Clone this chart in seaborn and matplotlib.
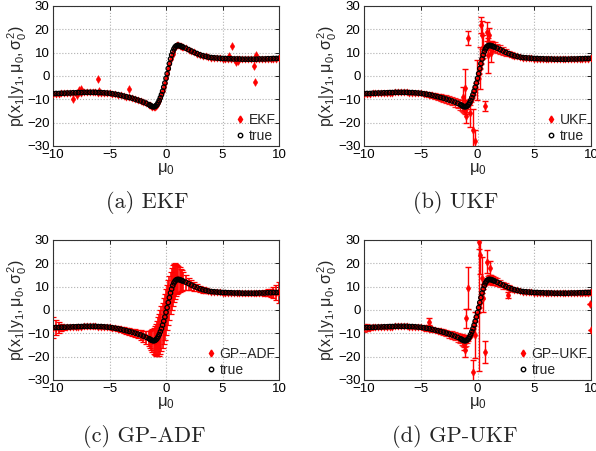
import matplotlib
matplotlib.use('Agg')
import matplotlib.pyplot as plt
import seaborn as sns
from matplotlib.lines import Line2D

# grid of mu_0 values (coarse in the flat parts, finer around 0)
mu0 = [-10, -9.75, -9.5, -9.25, -9, -8.75, -8.5, -8.25, -8, -7.75, -7.5, -7.25,
       -7, -6.75, -6.5, -6.25, -6, -5.75, -5.5, -5.25, -5, -4.75, -4.5, -4.25,
       -4, -3.75, -3.5, -3.25, -3, -2.75, -2.5, -2.25, -2, -1.75, -1.5,
       -1.4, -1.3, -1.2, -1.1, -1.0, -0.9, -0.8, -0.7, -0.6, -0.5, -0.4, -0.3,
       -0.2, -0.1, 0.0, 0.1, 0.2, 0.3, 0.4, 0.5, 0.6, 0.7, 0.8, 0.9, 1.0, 1.1,
       1.2, 1.3, 1.4,
       1.5, 1.75, 2, 2.25, 2.5, 2.75, 3, 3.25, 3.5, 3.75, 4, 4.25, 4.5, 4.75,
       5, 5.25, 5.5, 5.75, 6, 6.25, 6.5, 6.75, 7, 7.25, 7.5, 7.75, 8, 8.25,
       8.5, 8.75, 9, 9.25, 9.5, 9.75, 10]

true_y = [-7.6, -7.5, -7.5, -7.4, -7.4, -7.3, -7.3, -7.2, -7.2, -7.1, -7.1, -7.0,
          -7.0, -7.0, -7.0, -7.0, -7.1, -7.1, -7.2, -7.3, -7.4, -7.6, -7.8, -8.0,
          -8.3, -8.6, -8.9, -9.2, -9.5, -9.9, -10.3, -10.7, -11.2, -11.7, -12.3,
          -12.6, -12.9, -13.1, -13.2, -13.1, -12.8, -12.3, -11.5, -10.5, -9.3,
          -8.0, -6.5, -4.8, -3.0, -1.0, 1.0, 3.2, 5.3, 7.3, 9.0, 10.5, 11.6,
          12.4, 12.9, 13.1, 13.1, 13.0, 12.8, 12.6,
          12.4, 11.9, 11.3, 10.7, 10.1, 9.6, 9.1, 8.7, 8.4, 8.1, 7.9, 7.8, 7.7,
          7.6, 7.5, 7.5, 7.4, 7.4, 7.3, 7.3, 7.3, 7.2, 7.2, 7.2, 7.2, 7.2, 7.2,
          7.3, 7.3, 7.3, 7.4, 7.4, 7.5, 7.5, 7.6]

# EKF: no error bars, a few stray estimates
ekf_out_x = [-8.2, -7.9, -7.7, -7.5, -6.0, -5.9, -3.3, -0.4, 0.6, 5.8, 5.6, 6.2, 6.4, 7.8, 7.9, 8.0]
ekf_out_y = [-9.8, -8.3, -5.8, -5.5, -1.3, -6.4, -5.6, -7.8, 9.3, 12.8, 8.5, 5.8, 6.3, 4.3, -2.6, 9.0]

# UKF
ukf_err = [0.3] * 20 + [0.4, 0.6, 0.8, 1.0, 1.2, 1.3, 1.4, 1.5, 1.5, 1.6, 1.7, 1.8, 1.9, 2.0, 2.2] + \
          [2.4, 2.6, 2.8, 3.0, 3.0, 2.5, 2.0, 1.0, 0.5] + [0.2] * 13 + \
          [0.6, 1.0, 1.5, 2.0, 2.0, 2.0, 2.0] + \
          [2.0, 1.9, 1.8, 1.6, 1.4, 1.2, 1.0, 0.8, 0.6, 0.5, 0.4] + [0.3] * 24
ukf_out_x = [-0.8, 0.28, 0.4, -0.07, 0.66, -0.37, -0.2, -1.1, -0.66, -1.26, -1.0, 0.95, 0.22, 0.51, 1.04, 1.2, 0.8]
ukf_out_y = [16.2, 21.9, 17.5, -1.7, -12.9, -23.0, -28.0, -5.3, -15.9, -8.9, -17.0, 9.0, 3.3, 12.6, 17.6, 10.0, 19.0]
ukf_out_err = [2.9, 3.5, 6.0, 8.5, 2.0, 9.0, 5.0, 8.5, 6.0, 4.0, 3.0, 7.5, 9.0, 5.0, 3.0, 4.0, 4.0]

# GP-ADF
adf_err = [4.5, 3.2, 2.2, 1.5, 1.0, 0.8] + [0.6] * 14 + \
          [0.7, 0.8, 0.9, 1.0, 1.1, 1.2, 1.3, 1.4, 1.5, 1.7, 1.9, 2.1, 2.4, 2.8, 3.3] + \
          [3.8, 4.3, 4.9, 5.5, 6.1, 6.8, 7.6, 8.4, 9.0, 9.4, 9.6, 9.7, 9.8, 9.8, 9.8,
           9.7, 9.6, 9.4, 9.2, 9.0, 8.6, 8.2, 7.6, 7.0, 6.4, 5.8, 5.3, 4.8, 4.4] + \
          [4.0, 3.2, 2.6, 2.2, 1.9, 1.6, 1.4, 1.2, 1.0, 0.9, 0.8, 0.7] + [0.6] * 15 + \
          [0.7, 0.9, 1.1, 1.4, 1.8, 2.4, 3.2, 4.5]

# GP-UKF
gpukf_err = [1.8, 1.5, 1.0, 0.6, 0.4] + [0.3] * 15 + \
            [0.4, 0.8, 1.2, 1.2, 1.0, 1.0, 1.1, 1.2, 1.3, 1.4, 1.5, 1.6, 1.7, 1.8, 2.0] + \
            [2.2, 2.4, 2.6, 2.6, 2.2, 1.5, 0.8] + [0.2] * 14 + [0.8, 1.2, 1.6, 2.0, 2.0, 2.0, 1.9, 1.9] + \
            [1.8, 1.7, 1.6, 1.5, 1.3, 1.1, 0.9, 0.7, 0.5, 0.4] + [0.3] * 20 + [0.5, 0.7, 1.0, 1.2, 1.0]
gpukf_out_x = [-0.81, 0.66, -1.0, -0.37, -0.22, 0.16, 0.22, 0.37, 0.1, 0.8, 1.1, 2.7, -1.19, -1.1, -4.3, 0.5, 9.9, 10.0]
gpukf_out_y = [9.6, -18.1, -3.6, -26.4, -10.7, 29.0, 23.6, 13.6, 2.0, 20.7, 17.9, 6.4, -14.3, -17.0, -5.0, 5.0, 2.4, -8.7]
gpukf_out_err = [9.0, 4.8, 4.0, 5.0, 10.0, 3.0, 8.0, 9.0, 28.0, 5.0, 3.0, 1.4, 3.0, 3.0, 1.5, 6.0, 0.0, 0.0]

panels = ['EKF', 'UKF', 'GP\u2212ADF', 'GP\u2212UKF']
captions = ['(a) EKF', '(b) UKF', '(c) GP-ADF', '(d) GP-UKF']

sns.set_style('white')
plt.rcParams['font.family'] = ['Liberation Sans', 'DejaVu Sans']
plt.rcParams['mathtext.fontset'] = 'custom'
plt.rcParams['mathtext.rm'] = 'Liberation Sans'
plt.rcParams['mathtext.it'] = 'Liberation Sans'
plt.rcParams['mathtext.bf'] = 'Liberation Sans:bold'

W, H = 596, 451
fig = plt.figure(figsize=(W / 100, H / 100), dpi=100)


def box(l, r, t, b):
    return [l / W, 1 - b / H, (r - l) / W, (b - t) / H]


axes = [fig.add_axes(box(53, 279, 6, 146)), fig.add_axes(box(364, 591, 6, 146)),
        fig.add_axes(box(53, 279, 240, 380)), fig.add_axes(box(364, 591, 240, 380))]

red = '#ff0000'
band_errs = [None, ukf_err, adf_err, gpukf_err]
band_alpha = [1, 0.85, 1, 0.85]
band_lw = [0.9, 0.9, 1.2, 0.9]
outliers = [(ekf_out_x, ekf_out_y, None),
            (ukf_out_x, ukf_out_y, ukf_out_err),
            ([], [], None),
            (gpukf_out_x, gpukf_out_y, gpukf_out_err)]

for i, ax in enumerate(axes):
    err = band_errs[i]
    ox, oy, oerr = outliers[i]
    if err is not None:
        ax.errorbar(mu0, true_y, yerr=err, fmt='none', ecolor=red, elinewidth=band_lw[i],
                    capsize=2.2, capthick=0.9, alpha=band_alpha[i])
    if oerr is not None:
        ax.errorbar(ox, oy, yerr=oerr, fmt='none', ecolor=red, elinewidth=1.0,
                    capsize=2.5, capthick=1.0)
    sns.scatterplot(x=mu0, y=true_y, ax=ax, marker='d', s=14, color=red,
                    edgecolor=red, linewidth=0.3, zorder=3)
    if len(ox):
        sns.scatterplot(x=ox, y=oy, ax=ax, marker='d', s=16, color=red,
                        edgecolor=red, linewidth=0.3, zorder=3)
    sns.scatterplot(x=mu0, y=true_y, ax=ax, marker='o', s=10, facecolor='none',
                    edgecolor='black', linewidth=0.9, zorder=4)

    ax.set_xlim(-10, 10)
    ax.set_ylim(-30, 30)
    ax.set_xticks([-10, -5, 0, 5, 10])
    ax.set_yticks([-30, -20, -10, 0, 10, 20, 30])
    ax.grid(True, linestyle=':', color='#b0b0b0', linewidth=0.8)
    ax.tick_params(direction='in', length=3, width=0.6, labelsize=9.5, pad=2.5,
                   top=True, right=True, colors='black')
    for s in ax.spines.values():
        s.set_color('#333333')
        s.set_linewidth(0.8)
    ax.set_xlabel(r'$\mu_0$', fontsize=12)
    ax.xaxis.set_label_coords(0.5, -0.105)
    ax.set_ylabel(r'$p(x_1|y_1,\mu_0,\sigma_0^2)$', fontsize=11.5)
    ax.yaxis.set_label_coords(-0.108, 0.5)

    handles = [Line2D([], [], marker='d', color=red, linestyle='none', markersize=3.5),
               Line2D([], [], marker='o', markerfacecolor='none', markeredgecolor='black',
                      linestyle='none', markersize=3.2)]
    ax.legend(handles, [panels[i], 'true'], loc='lower right', frameon=False,
              fontsize=10, handletextpad=0.2, handlelength=0.8, borderaxespad=0.15,
              labelspacing=0.1, borderpad=0.1)

for cap, (cx, cy) in zip(captions, [(147, 202), (456, 202), (144, 436), (455, 436)]):
    fig.text(cx / W, 1 - cy / H, cap, ha='center', va='center', fontsize=16,
             family='cmr10')

fig.savefig('out.png', dpi=100)
